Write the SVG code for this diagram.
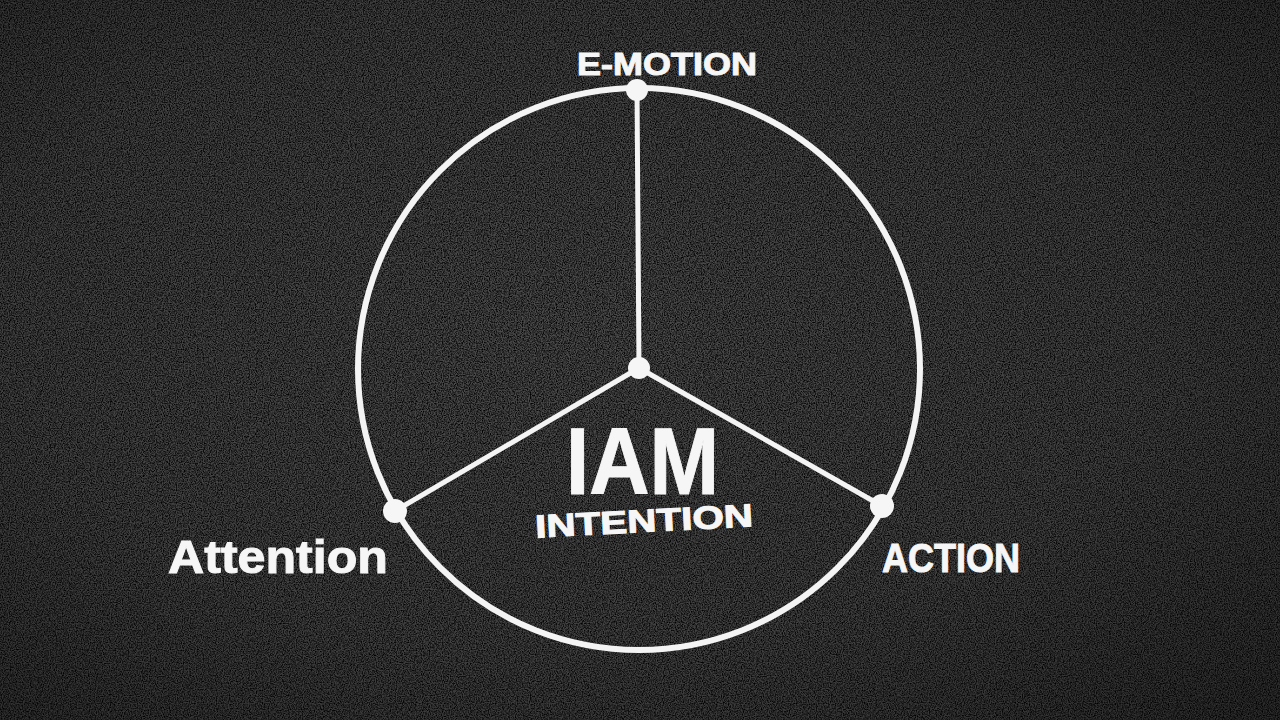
<svg xmlns="http://www.w3.org/2000/svg" width="1280" height="720" viewBox="0 0 1280 720">
  <defs>
    <radialGradient id="bg" cx="0.45" cy="0.45" r="0.75">
      <stop offset="0" stop-color="#4c4c4c"/>
      <stop offset="0.6" stop-color="#424242"/>
      <stop offset="1" stop-color="#2c2c2c"/>
    </radialGradient>
    <filter id="noise" x="0" y="0" width="100%" height="100%">
      <feTurbulence type="fractalNoise" baseFrequency="0.85" numOctaves="2" seed="3"/>
      <feColorMatrix type="matrix" values="0 0 0 0 0  0 0 0 0 0  0 0 0 0 0  2.2 0 0 0 -0.75"/>
    </filter>
    <style>
      .chalk { stroke: #f4f4f4; fill: none; stroke-linecap: round; }
      .dot { fill: #f6f6f6; }
      .lbl { fill: #f6f6f6; stroke: #f6f6f6; stroke-width: 1; font-family: "Liberation Sans", Arial, sans-serif; font-weight: bold; }
    </style>
  </defs>

  <rect width="1280" height="720" fill="url(#bg)"/>
  <rect width="1280" height="720" filter="url(#noise)"/>

  <g id="connectors">
    <circle class="chalk" cx="639" cy="369" r="281" stroke-width="6"/>
    <line class="chalk" x1="637" y1="90" x2="639" y2="368" stroke-width="5"/>
    <line class="chalk" x1="639" y1="368" x2="395" y2="511" stroke-width="5"/>
    <line class="chalk" x1="639" y1="368" x2="882" y2="506" stroke-width="5"/>
  </g>

  <g id="node-emotion">
    <circle class="dot" cx="637" cy="90" r="11"/>
    <text class="lbl" x="577" y="75" font-size="32" textLength="180" lengthAdjust="spacingAndGlyphs">E-MOTION</text>
  </g>

  <g id="node-center">
    <circle class="dot" cx="639" cy="368" r="11"/>
    <text class="lbl" x="566" y="494" font-size="94" textLength="153" lengthAdjust="spacingAndGlyphs">IAM</text>
    <text class="lbl" x="535" y="532" font-size="32" textLength="218" lengthAdjust="spacingAndGlyphs" transform="rotate(-3 643 520)">INTENTION</text>
  </g>

  <g id="node-attention">
    <circle class="dot" cx="395" cy="511" r="12"/>
    <text class="lbl" x="168" y="573" font-size="46" textLength="220" lengthAdjust="spacingAndGlyphs">Attention</text>
  </g>

  <g id="node-action">
    <circle class="dot" cx="882" cy="506" r="12"/>
    <text class="lbl" x="882" y="572" font-size="40" textLength="138" lengthAdjust="spacingAndGlyphs">ACTION</text>
  </g>
</svg>
